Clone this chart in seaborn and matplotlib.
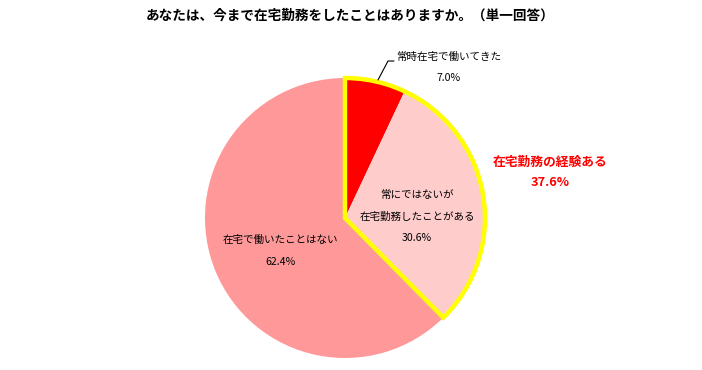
import matplotlib
matplotlib.use("Agg")
import matplotlib.pyplot as plt
import seaborn as sns
from matplotlib.patches import Wedge

sns.set_theme(style="white")
plt.rcParams['font.family'] = ['Noto Sans CJK JP', 'DejaVu Sans']
plt.rcParams['text.color'] = 'black'

title = "あなたは、今まで在宅勤務をしたことはありますか。（単一回答）"
categories = ["常時在宅で働いてきた", "常にではないが\n在宅勤務したことがある", "在宅で働いたことはない"]
values = [7.0, 30.6, 62.4]
colors = ["#FF0000", "#FFCCCC", "#FF9999"]
group_label = "在宅勤務の経験ある"
group_value = 37.6

fig = plt.figure(figsize=(7.02, 3.70), dpi=100)
ax = fig.add_axes([0, 0, 1, 1])

cx, cy, r = 345, 152, 140
wedges, _ = ax.pie(values, colors=colors, startangle=90, counterclock=False,
                   center=(cx, cy), radius=r, frame=True,
                   wedgeprops=dict(linewidth=0))
ax.set_xlim(0, 702)
ax.set_ylim(0, 370)
ax.set_aspect('equal')
ax.axis('off')

# yellow outline around experienced group
t1 = wedges[1].theta1
t2 = wedges[0].theta2
ax.add_patch(Wedge((cx, cy), r, t1, t2, facecolor='none', edgecolor='#FFFF00',
                   linewidth=3.2, joinstyle='miter', zorder=5))

# labels
fs = 7.6
ax.plot([378, 388, 394], [290, 309, 309], color='black', lw=0.8, zorder=6)
ax.text(396, 313, categories[0], fontsize=fs, ha='left', va='center')
ax.text(449, 292, f"{values[0]:.1f}%", fontsize=fs, ha='center', va='center')

ax.text(417, 175, "常にではないが", fontsize=fs, ha='center', va='center')
ax.text(417, 153, "在宅勤務したことがある", fontsize=fs, ha='center', va='center')
ax.text(417, 132, f"{values[1]:.1f}%", fontsize=fs, ha='center', va='center')

ax.text(280, 130, categories[2], fontsize=fs, ha='center', va='center')
ax.text(280, 108, f"{values[2]:.1f}%", fontsize=fs, ha='center', va='center')

ax.text(550, 208, group_label, fontsize=9.2, fontweight='bold', color='#FF0000',
        ha='center', va='center')
ax.text(550, 187, f"{group_value:.1f}%", fontsize=9.2, fontweight='bold', color='#FF0000',
        ha='center', va='center')

ax.text(350, 354, title, fontsize=9.8, fontweight='bold', ha='center', va='center')

fig.savefig("out.png", dpi=100, facecolor='white')
